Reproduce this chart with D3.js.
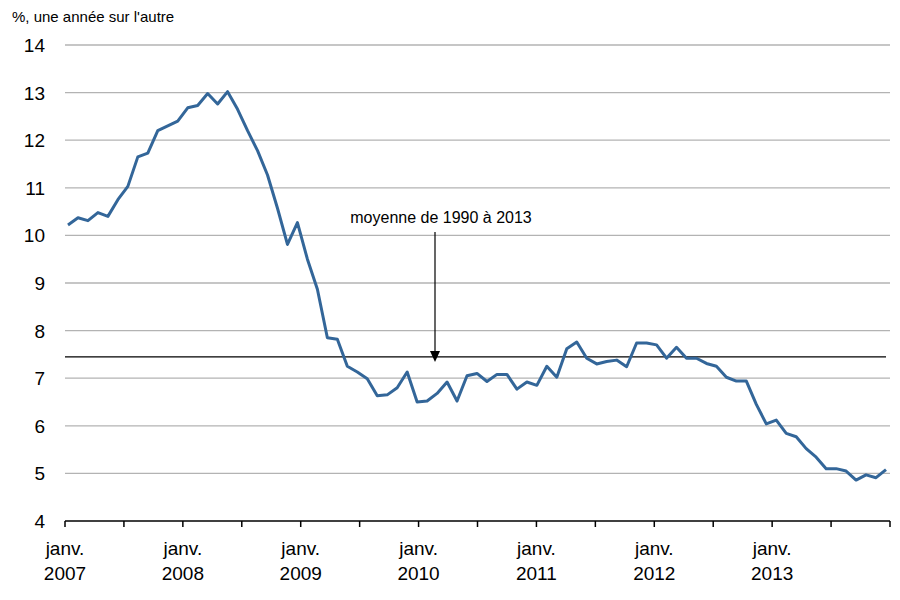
<!DOCTYPE html><html><head><meta charset="utf-8"><script src="https://cdn.jsdelivr.net/npm/d3@7"></script>
<style>body{margin:0;background:#fff}text{font-family:"Liberation Sans",Arial,sans-serif}</style></head><body><svg id="c" width="900" height="600"></svg><script>
const values=[10.22,10.37,10.31,10.48,10.40,10.75,11.03,11.65,11.73,12.20,12.30,12.40,
12.68,12.73,12.98,12.76,13.02,12.65,12.20,11.78,11.27,10.57,9.81,10.27,
9.5,8.87,7.85,7.82,7.25,7.13,6.99,6.63,6.65,6.80,7.13,6.50,
6.52,6.68,6.92,6.52,7.05,7.10,6.93,7.08,7.08,6.77,6.92,6.85,
7.25,7.02,7.62,7.76,7.42,7.30,7.35,7.38,7.24,7.74,7.74,7.70,
7.42,7.65,7.42,7.42,7.31,7.25,7.02,6.94,6.94,6.45,6.04,6.12,
5.84,5.77,5.52,5.34,5.10,5.10,5.05,4.86,4.97,4.91,5.08];
const yearLabels=["2007","2008","2009","2010","2011","2012","2013"];
const yTicks=[4,5,6,7,8,9,10,11,12,13,14];
const meanValue=7.45;
const svg=d3.select("#c");
const y=d3.scaleLinear().domain([4,14]).range([521,45]);
const xa=d3.scaleLinear().domain([0,84]).range([65,890]);
const xp=d3.scaleLinear().domain([0,values.length-1]).range([68,886]);
svg.append("g").selectAll("line").data(yTicks.slice(1)).join("line").attr("x1",65).attr("x2",890).attr("y1",d=>y(d)).attr("y2",d=>y(d)).attr("stroke","#b3b3b3").attr("stroke-width",1.3);
svg.append("g").selectAll("text").data(yTicks).join("text").attr("x",45).attr("y",d=>y(d)+7).attr("text-anchor","end").attr("font-size",19).text(d=>d);
svg.append("text").attr("x",12).attr("y",22).attr("font-size",15).text("%, une année sur l'autre");
svg.append("line").attr("x1",65).attr("x2",886).attr("y1",y(meanValue)).attr("y2",y(meanValue)).attr("stroke","#000").attr("stroke-width",1.2);
svg.append("line").attr("x1",65).attr("x2",890).attr("y1",521).attr("y2",521).attr("stroke","#000").attr("stroke-width",1.5);
svg.append("g").selectAll("line").data(d3.range(0,85,6)).join("line").attr("x1",d=>xa(d)).attr("x2",d=>xa(d)).attr("y1",521).attr("y2",527).attr("stroke","#000").attr("stroke-width",1.5);
const lg=svg.append("g").selectAll("text").data(yearLabels).join("text").attr("text-anchor","middle").attr("font-size",19);
lg.append("tspan").attr("x",(d,i)=>xa(i*12)).attr("y",555).text("janv.");
lg.append("tspan").attr("x",(d,i)=>xa(i*12)).attr("y",580).text(d=>d);
svg.append("path").datum(values).attr("fill","none").attr("stroke","#336699").attr("stroke-width",3).attr("stroke-linejoin","round")
 .attr("d",d3.line().x((d,i)=>xp(i)).y(d=>y(d)));
svg.append("text").attr("x",441).attr("y",223).attr("text-anchor","middle").attr("font-size",16).text("moyenne de 1990 à 2013");
svg.append("line").attr("x1",435).attr("x2",435).attr("y1",232).attr("y2",352).attr("stroke","#000").attr("stroke-width",1.2);
svg.append("path").attr("d","M430,351L440,351L435,362Z").attr("fill","#000");
</script></body></html>
